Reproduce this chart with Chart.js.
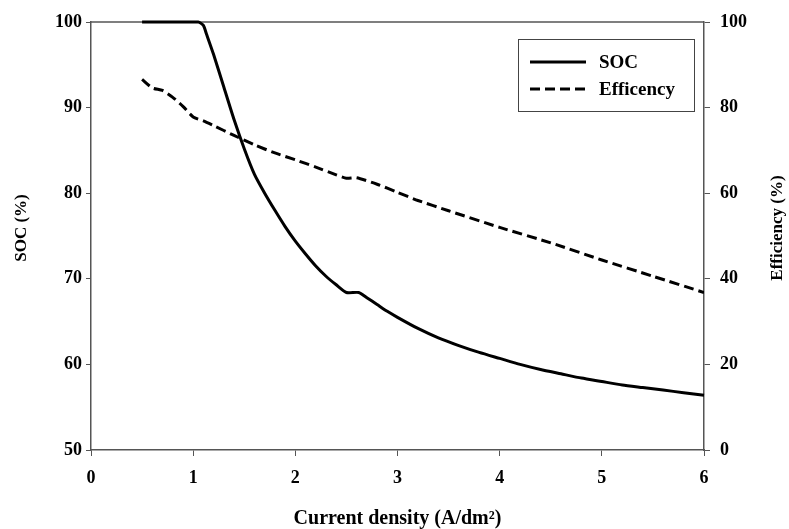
<!DOCTYPE html>
<html>
<head>
<meta charset="utf-8">
<script src="https://cdn.jsdelivr.net/npm/chart.js@4.4.0/dist/chart.umd.min.js"></script>
<style>
  html, body { margin: 0; padding: 0; background: #fff; }
  #wrap { width: 789px; height: 529px; }
</style>
</head>
<body>
<div id="wrap"><canvas id="chart"></canvas></div>
<script>
// ─── 데이터 ─────────────────────────────────────────────────────────────────
const socX = [0.5, 1.05, 1.1, 1.13, 1.2, 1.3, 1.4, 1.5, 1.6, 1.7, 1.8, 1.9, 2.0, 2.1, 2.2, 2.3, 2.4, 2.5, 2.62,
  2.7, 2.8, 2.9, 3.0, 3.2, 3.4, 3.6, 3.8, 4.0, 4.2, 4.4, 4.6, 4.8, 5.0, 5.2, 5.4, 5.6, 5.8, 6.0];
const socY = [100, 100, 99.6, 98.6, 96.2, 92.4, 88.6, 85.2, 82.2, 80.0, 78.0, 76.1, 74.4, 72.9, 71.5, 70.3, 69.3, 68.4, 68.4,
  67.8, 67.0, 66.2, 65.5, 64.2, 63.1, 62.2, 61.4, 60.7, 60.0, 59.4, 58.9, 58.4, 58.0, 57.6, 57.3, 57.0, 56.7, 56.4];

const effX = [0.5, 0.6, 0.7, 0.8, 0.9, 1.0, 1.1, 1.2, 1.4, 1.6, 1.8, 2.0, 2.2, 2.4, 2.5, 2.6, 2.8, 3.0, 3.2, 3.5,
  4.0, 4.5, 5.0, 5.5, 6.0];
const effY = [86.6, 84.6, 84.0, 82.4, 80.3, 77.8, 76.9, 75.8, 73.5, 71.3, 69.4, 67.8, 66.1, 64.3, 63.5, 63.6, 62.1, 60.2, 58.3, 55.9,
  52.0, 48.4, 44.4, 40.6, 36.8];

const seriesNames = ['SOC', 'Efficency'];
const xTitle = 'Current density (A/dm\u00B2)';
const ySocTitle = 'SOC (%)';
const yEffTitle = 'Efficiency (%)';

// ─── 스타일 ─────────────────────────────────────────────────────────────────
const FONT = "'Liberation Serif', 'Times New Roman', serif";
const AXIS_COLOR = '#555';
const tickFont = { family: FONT, size: 18, weight: 'bold' };
const titleFont = { family: FONT, size: 17, weight: 'bold' };
const xTitleFont = { family: FONT, size: 20, weight: 'bold' };
const legendSize = 19;

const toPoints = (xs, ys) => xs.map((x, i) => ({ x, y: ys[i] }));

function axisCommon(tickLen) {
  return {
    grid: { display: true, drawOnChartArea: false, drawTicks: true, tickLength: tickLen, color: AXIS_COLOR, lineWidth: 1 },
    border: { display: true, color: AXIS_COLOR, width: 1.5 },
  };
}

function drawVerticalText(ctx, text, x, y) {
  ctx.save();
  ctx.translate(x, y);
  ctx.rotate(-Math.PI / 2);
  ctx.fillText(text, 0, 0);
  ctx.restore();
}

// ─── 플러그인: 위 테두리, 세로축 제목, 범례 ───────────────────────────────────
const extras = {
  id: 'extras',
  beforeDatasetsDraw(chart) {
    // 위쪽 테두리 (선 아래에 깔리도록 먼저 그림)
    const { ctx, chartArea } = chart;
    ctx.save();
    ctx.strokeStyle = AXIS_COLOR;
    ctx.lineWidth = 1.5;
    ctx.beginPath();
    ctx.moveTo(chartArea.left, chartArea.top);
    ctx.lineTo(chartArea.right, chartArea.top);
    ctx.stroke();
    ctx.restore();
  },
  afterDraw(chart) {
    const { ctx, chartArea } = chart;

    // 세로축 제목 (둘 다 아래→위 방향)
    ctx.save();
    const midY = (chartArea.top + chartArea.bottom) / 2 - 8;
    ctx.fillStyle = '#000';
    ctx.font = `bold ${titleFont.size}px ${FONT}`;
    ctx.textAlign = 'center';
    ctx.textBaseline = 'middle';
    drawVerticalText(ctx, ySocTitle, 22, midY);
    drawVerticalText(ctx, yEffTitle, chart.width - 11, midY);
    ctx.restore();

    // 범례
    ctx.save();
    const bx = chartArea.right - 186;
    const by = chartArea.top + 17;
    const bw = 176;
    const bh = 72;
    ctx.strokeStyle = '#444';
    ctx.lineWidth = 1;
    ctx.strokeRect(bx + 0.5, by + 0.5, bw, bh);
    chart.data.datasets.forEach((ds, i) => {
      const ly = by + 23 + i * 27;
      ctx.strokeStyle = '#000';
      ctx.lineWidth = 3;
      ctx.setLineDash(ds.borderDash || []);
      ctx.beginPath();
      ctx.moveTo(bx + 12, ly);
      ctx.lineTo(bx + 68, ly);
      ctx.stroke();
      ctx.setLineDash([]);
      ctx.fillStyle = '#000';
      ctx.font = `bold ${legendSize}px ${FONT}`;
      ctx.textAlign = 'left';
      ctx.textBaseline = 'middle';
      ctx.fillText(ds.label, bx + 81, ly + 1);
    });
    ctx.restore();
  },
};

// ─── 차트 ───────────────────────────────────────────────────────────────────
const chart = new Chart(document.getElementById('chart'), {
  type: 'line',
  data: {
    datasets: [
      {
        label: seriesNames[0],
        data: toPoints(socX, socY),
        yAxisID: 'ySoc',
        borderColor: '#000',
        borderWidth: 3,
        pointRadius: 0,
        tension: 0.2,
        fill: false,
        clip: false,
      },
      {
        label: seriesNames[1],
        data: toPoints(effX, effY),
        yAxisID: 'yEff',
        borderColor: '#000',
        borderWidth: 3,
        borderDash: [10, 5],
        pointRadius: 0,
        tension: 0.2,
        fill: false,
      },
    ],
  },
  options: {
    responsive: true,
    maintainAspectRatio: false,
    animation: false,
    devicePixelRatio: 1,
    layout: { padding: { top: 22, left: 0, right: 0, bottom: 0 } },
    plugins: { legend: { display: false }, tooltip: { enabled: false } },
    scales: {
      x: {
        type: 'linear',
        min: 0,
        max: 6,
        ...axisCommon(6),
        ticks: { stepSize: 1, color: '#000', font: tickFont, padding: 12, maxRotation: 0 },
        title: { display: true, text: xTitle, color: '#000', font: xTitleFont, padding: { top: 0, bottom: -2 } },
        afterFit: (s) => { s.height = 79; },
      },
      ySoc: {
        type: 'linear',
        position: 'left',
        min: 50,
        max: 100,
        ...axisCommon(5),
        ticks: { stepSize: 10, color: '#000', font: tickFont, padding: 4 },
        afterFit: (s) => { s.width = 91; },
      },
      yEff: {
        type: 'linear',
        position: 'right',
        min: 0,
        max: 100,
        ...axisCommon(6),
        ticks: { stepSize: 20, color: '#000', font: tickFont, padding: 10 },
        afterFit: (s) => { s.width = 85; },
      },
    },
  },
  plugins: [extras],
});
</script>
</body>
</html>
